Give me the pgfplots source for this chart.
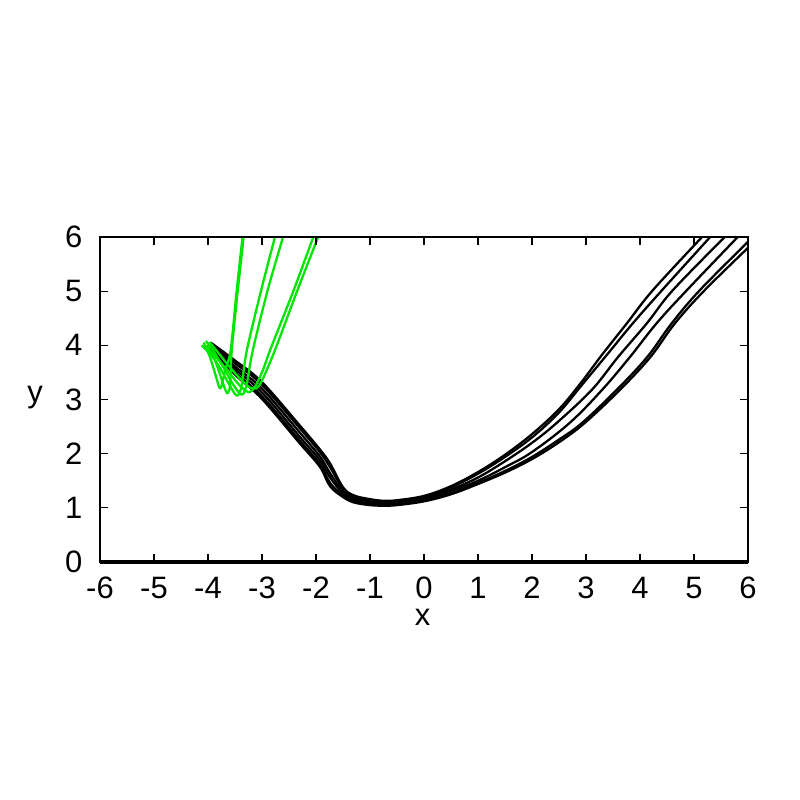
\documentclass[border=0pt]{standalone}
\usepackage{pgfplots}
\pgfplotsset{compat=1.18}
\usepackage{fontspec}
\setmainfont{Liberation Sans}
\definecolor{lgreen}{RGB}{0,230,0}
\begin{document}
\begin{tikzpicture}
\useasboundingbox (0,0) rectangle (8,8);
\begin{axis}[
  at={(1cm,2.38cm)}, anchor=south west,
  scale only axis, width=6.48cm, height=3.25cm,
  xmin=-6, xmax=6, ymin=0, ymax=6,
  xtick={-6,...,6}, ytick={0,...,6},
  tick align=inside, major tick length=0.08cm,
  clip=false, axis on top,
  axis line style={line width=0.35pt},
  tick style={line width=0.35pt, black},
  /pgf/number format/assume math mode=true,
  tick label style={font=\fontsize{8.8}{10}\selectfont, inner sep=0pt},
  xticklabel style={anchor=center, yshift=-0.26cm},
  yticklabel style={anchor=east, xshift=-0.17cm},
  every axis x label/.style={at={(axis description cs:0.498,-0.169)}, anchor=center, font=\fontsize{8.8}{10}\selectfont},
  every axis y label/.style={at={(axis description cs:-0.1,0.505)}, anchor=center, font=\fontsize{8.8}{10}\selectfont},
  xlabel={x}, ylabel={y},
  every axis plot/.append style={line join=round},
]
% baseline series at y = 0
\addplot[red, line width=1.3pt] coordinates {(-6,0) (6,0)};
\addplot[black, line width=0.9pt] coordinates {(-6,0) (6,0)};

% black trajectories
\addplot[black, line width=0.65pt, smooth, tension=0.6] coordinates {
(-3.95,4.05) (-3.5,3.72) (-3.0,3.32) (-2.3,2.52) (-1.93,2.08) (-1.74,1.82) (-1.5,1.38) (-1.3,1.23) (-1.0,1.16) (-0.75,1.13) (-0.5,1.14) (0,1.22) (0.5,1.40)
(1,1.66) (1.5,1.98) (2.0,2.36) (2.5,2.82) (2.9,3.30) (3.3,3.83) (3.76,4.41) (4.24,5.02) (5.15,6.0)};
\addplot[black, line width=0.65pt, smooth, tension=0.6] coordinates {
(-3.95,4.03) (-3.5,3.67) (-3.0,3.27) (-2.3,2.47) (-1.93,2.03) (-1.74,1.75) (-1.5,1.35) (-1.3,1.21) (-1.0,1.14) (-0.75,1.12) (-0.5,1.13) (0,1.21) (0.5,1.38)
(1,1.63) (1.5,1.94) (2.0,2.30) (2.5,2.76) (2.95,3.30) (3.4,3.84) (3.87,4.41) (4.41,5.02) (5.30,6.0)};
\addplot[black, line width=0.65pt, smooth, tension=0.6] coordinates {
(-3.95,4.01) (-3.5,3.61) (-3.0,3.20) (-2.3,2.39) (-1.93,1.95) (-1.74,1.64) (-1.5,1.30) (-1.3,1.18) (-1.0,1.12) (-0.75,1.09) (-0.5,1.10) (0,1.18) (0.5,1.34)
(1,1.56) (1.5,1.86) (2.0,2.20) (2.46,2.57) (3.11,3.18) (3.59,3.78) (4.13,4.41) (4.61,5.02) (5.57,6.0)};
\addplot[black, line width=0.65pt, smooth, tension=0.6] coordinates {
(-3.95,3.99) (-3.5,3.56) (-3.0,3.13) (-2.3,2.31) (-1.93,1.88) (-1.74,1.56) (-1.5,1.27) (-1.3,1.15) (-1.0,1.09) (-0.75,1.08) (-0.5,1.09) (0,1.16) (0.5,1.31)
(1,1.50) (1.5,1.75) (2.0,2.03) (2.70,2.57) (3.30,3.18) (3.81,3.78) (4.31,4.41) (4.87,5.02) (5.81,6.0)};
\addplot[black, line width=0.65pt, smooth, tension=0.6] coordinates {
(-3.95,3.97) (-3.5,3.50) (-3.0,3.06) (-2.3,2.24) (-1.93,1.81) (-1.74,1.46) (-1.5,1.23) (-1.3,1.12) (-1.0,1.07) (-0.75,1.05) (-0.5,1.06) (0,1.14) (0.5,1.27)
(1,1.46) (1.5,1.68) (2.0,1.94) (2.5,2.26) (2.93,2.57) (3.57,3.18) (4.13,3.78) (4.59,4.41) (5.11,5.02) (6,5.91)};
\addplot[black, line width=0.65pt, smooth, tension=0.6] coordinates {
(-3.95,3.95) (-3.5,3.46) (-3.0,3.01) (-2.3,2.19) (-1.93,1.76) (-1.74,1.40) (-1.5,1.20) (-1.3,1.10) (-1.0,1.05) (-0.75,1.04) (-0.5,1.05) (0,1.12) (0.5,1.25)
(1,1.44) (1.5,1.65) (2.0,1.90) (2.5,2.21) (2.98,2.57) (3.63,3.18) (4.19,3.78) (4.65,4.41) (5.20,5.02) (6,5.80)};

% green trajectories
\addplot[lgreen, line width=0.65pt, smooth, tension=0.5] coordinates {
(-4.08,4.05) (-3.97,3.8) (-3.86,3.45) (-3.79,3.22) (-3.75,3.25) (-3.68,3.55) (-3.58,3.91) (-3.47,5.0) (-3.36,6.0)};
\addplot[lgreen, line width=0.65pt, smooth, tension=0.5] coordinates {
(-4.02,4.0) (-3.88,3.75) (-3.74,3.35) (-3.65,3.12) (-3.6,3.2) (-3.58,3.45) (-3.56,3.91) (-3.45,5.0) (-3.34,6.0)};
\addplot[lgreen, line width=0.65pt, smooth, tension=0.5] coordinates {
(-4.12,4.0) (-3.97,3.85) (-3.8,3.62) (-3.62,3.3) (-3.5,3.1) (-3.44,3.08) (-3.38,3.25) (-3.28,3.91) (-3.02,5.0) (-2.76,6.0)};
\addplot[lgreen, line width=0.65pt, smooth, tension=0.5] coordinates {
(-4.04,4.08) (-3.9,3.9) (-3.72,3.6) (-3.55,3.3) (-3.42,3.12) (-3.35,3.1) (-3.28,3.3) (-3.17,3.91) (-2.9,5.0) (-2.61,6.0)};
\addplot[lgreen, line width=0.65pt, smooth, tension=0.5] coordinates {
(-4.05,3.98) (-3.87,3.8) (-3.65,3.55) (-3.45,3.3) (-3.3,3.16) (-3.22,3.14) (-3.12,3.25) (-2.98,3.55) (-2.85,3.91) (-2.42,5.0) (-2.05,6.0)};
\addplot[lgreen, line width=0.65pt, smooth, tension=0.5] coordinates {
(-3.97,4.06) (-3.8,3.85) (-3.6,3.6) (-3.4,3.38) (-3.22,3.22) (-3.1,3.21) (-3.0,3.35) (-2.76,3.91) (-2.35,5.0) (-1.96,6.0)};
\end{axis}
\end{tikzpicture}
\end{document}
